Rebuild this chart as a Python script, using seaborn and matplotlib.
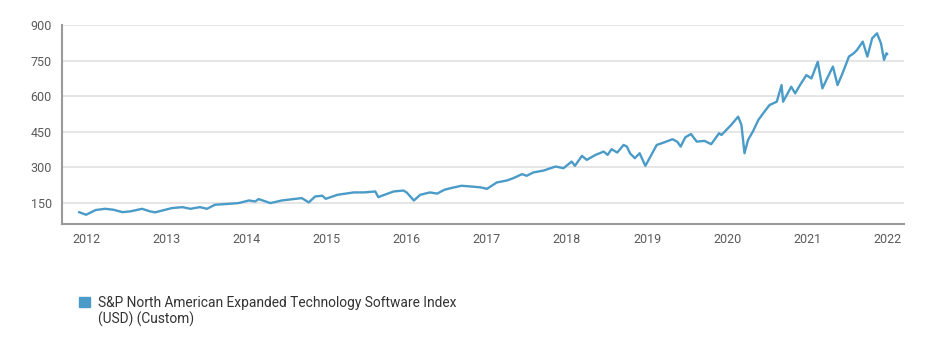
import pandas as pd
import matplotlib.pyplot as plt
import matplotlib.dates as mdates
from matplotlib.patches import Patch
import seaborn as sns

# index level (approximate turning points)
dates = [
    "2011-11-29", "2012-01-01", "2012-02-14", "2012-03-28", "2012-05-05", "2012-06-14",
    "2012-07-20", "2012-09-12", "2012-10-19", "2012-11-10", "2013-01-26", "2013-03-15",
    "2013-04-20", "2013-06-03", "2013-07-05", "2013-08-10", "2013-10-12", "2013-11-25",
    "2014-01-12", "2014-02-10", "2014-02-25", "2014-04-20", "2014-06-10", "2014-08-04",
    "2014-09-10", "2014-10-12", "2014-11-10", "2014-12-13", "2014-12-28", "2015-02-20",
    "2015-05-05", "2015-06-20", "2015-08-11", "2015-08-25", "2015-09-16", "2015-11-03",
    "2015-12-17", "2016-01-01", "2016-02-03", "2016-03-03", "2016-04-16", "2016-05-19",
    "2016-06-21", "2016-07-20", "2016-09-06", "2016-10-20", "2016-12-05", "2017-01-01",
    "2017-02-15", "2017-04-01", "2017-05-01", "2017-06-10", "2017-07-01", "2017-07-31",
    "2017-09-16", "2017-11-10", "2017-12-16", "2018-01-22", "2018-02-06", "2018-03-10",
    "2018-04-01", "2018-05-11", "2018-06-17", "2018-07-05", "2018-07-23", "2018-08-18",
    "2018-09-16", "2018-10-01", "2018-10-15", "2018-11-06", "2018-11-28", "2018-12-24",
    "2019-01-08", "2019-02-14", "2019-03-18", "2019-04-27", "2019-05-19", "2019-06-03",
    "2019-06-24", "2019-07-20", "2019-08-15", "2019-09-20", "2019-10-20", "2019-11-25",
    "2019-12-06", "2020-01-19", "2020-02-20", "2020-03-06", "2020-03-20", "2020-04-05",
    "2020-04-27", "2020-05-22", "2020-06-13", "2020-07-12", "2020-08-14", "2020-09-05",
    "2020-09-12", "2020-10-19", "2020-11-06", "2020-11-28", "2020-12-27", "2021-01-19",
    "2021-02-17", "2021-03-10", "2021-04-01", "2021-04-27", "2021-05-18", "2021-06-10",
    "2021-07-09", "2021-07-31", "2021-08-15", "2021-09-10", "2021-10-01", "2021-10-23",
    "2021-11-14", "2021-12-02", "2021-12-16", "2021-12-27", "2021-12-31",
]
values = [
    112, 101, 121, 126, 122, 112,
    115, 126, 115, 111, 129, 133,
    126, 133, 126, 143, 147, 150,
    161, 157, 167, 150, 161, 167,
    171, 153, 178, 181, 168, 185,
    195, 195, 199, 175, 183, 199,
    203, 195, 161, 185, 195, 190,
    206, 213, 223, 220, 216, 210,
    237, 245, 255, 272, 265, 279,
    287, 304, 297, 325, 307, 349,
    332, 353, 367, 353, 377, 363,
    395, 388, 360, 339, 360, 307,
    332, 395, 405, 419, 408, 388,
    427, 441, 409, 412, 398, 444,
    437, 479, 514, 479, 360, 416,
    451, 500, 528, 563, 577, 647,
    577, 640, 612, 647, 689, 675,
    745, 633, 676, 725, 647, 697,
    767, 781, 795, 830, 767, 844,
    865, 823, 753, 781, 777,
]

series_name = "S&P North American Expanded Technology Software Index"
series_suffix = "(USD) (Custom)"
y_ticks = [150, 300, 450, 600, 750, 900]
x_years = list(range(2012, 2023))

line_color = "#4b9bc8"
W, H = 941, 354

sns.set_theme(style="white")
plt.rcParams["font.family"] = ["Roboto", "DejaVu Sans"]

df = pd.DataFrame({"date": pd.to_datetime(dates), "value": values})

fig = plt.figure(figsize=(W / 100, H / 100), dpi=100)
ax = fig.add_axes([62 / W, 1 - 224 / H, (904 - 62) / W, (224 - 25) / H])

sns.lineplot(data=df, x="date", y="value", ax=ax, color=line_color, linewidth=1.7)

ax.set_xlim(pd.Timestamp("2011-09-13"), pd.Timestamp("2022-03-17"))
ax.set_ylim(62, 900)
ax.set_yticks(y_ticks)
ax.set_xticks([pd.Timestamp(f"{y}-01-01") for y in x_years])
ax.xaxis.set_major_formatter(mdates.DateFormatter("%Y"))
ax.set_xlabel("")
ax.set_ylabel("")

ax.grid(axis="y", color="#e4e4e4", linewidth=1.3)
ax.set_axisbelow(True)
for side in ["top", "right"]:
    ax.spines[side].set_visible(False)
for side in ["left", "bottom"]:
    ax.spines[side].set_color("#9a9a9a")
    ax.spines[side].set_linewidth(1.5)

ax.tick_params(axis="y", colors="#9a9a9a", labelcolor="#5a5a5a", labelsize=9,
               length=3, width=1.2, pad=4.3)
ax.tick_params(axis="x", colors="#9a9a9a", labelcolor="#5a5a5a", labelsize=9,
               length=4.3, width=1.2, pad=2.2)

# legend: square swatch + first line, second line placed under it
leg = fig.legend(handles=[Patch(color=line_color, label=series_name)],
                 loc="upper left", bbox_to_anchor=(79 / W, 1 - 296 / H),
                 frameon=False, fontsize=9.9, borderpad=0, borderaxespad=0,
                 handlelength=0.8, handleheight=0.8, handletextpad=0.6,
                 labelcolor="#333333")

fig.canvas.draw()
tb = leg.get_texts()[0].get_window_extent()
fig.text(tb.x0 / W, (tb.y0 - 17) / H, series_suffix, fontsize=9.9,
         color="#333333", ha="left", va="bottom")

fig.savefig("out.png", dpi=100)
